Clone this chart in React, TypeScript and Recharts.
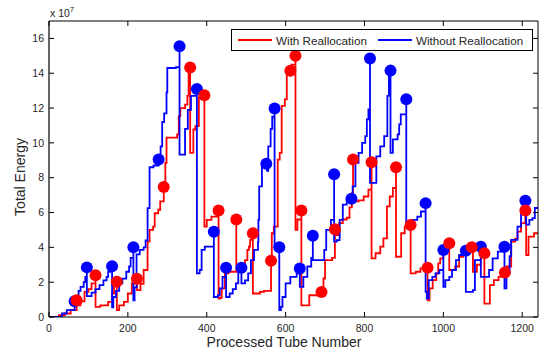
import React from 'react'
import { ComposedChart, Line, Scatter, XAxis, YAxis, Legend } from 'recharts'

// [processed tube number, total energy (x 1e7)]
const withRealloc: [number, number][] = [
  [0, 0], [25, 0.1], [40, 0.2], [55, 0.4], [70, 0.96], [75, 0.67], [80, 0.9], [90, 1.44], [100, 1.6], [108, 1.93], [118, 2.4],
  [118, 0.58], [130, 0.67], [150, 0.87], [160, 1.35], [165, 1.93], [172, 2.02],
  [172, 0.39], [178, 0.67], [190, 0.87], [200, 1.35], [210, 1.93], [223, 2.2],
  [223, 1.54], [232, 1.9], [240, 2.7], [250, 4.33], [255, 5.0], [264, 5.19], [268, 5.96], [277, 6.16], [282, 6.64], [291, 7.47],
  [295, 8.85], [298, 10.3], [325, 10.49], [329, 11.54], [333, 12.0], [345, 12.2], [351, 12.7], [354, 14.04], [358, 14.33],
  [358, 9.43], [366, 10.77], [371, 10.96], [380, 12.6], [394, 12.73],
  [394, 5.19], [400, 5.58], [412, 5.77], [430, 6.12],
  [430, 1.06], [434, 1.1], [438, 1.64], [446, 2.5], [455, 2.6], [475, 5.6],
  [475, 2.6], [490, 2.9], [497, 3.27], [503, 3.85], [507, 4.04], [510, 4.43], [517, 4.81],
  [517, 1.35], [535, 1.44], [545, 1.5], [563, 3.23],
  [565, 4.81], [570, 5.19], [580, 9.04], [585, 9.43], [590, 12.12], [598, 12.5], [603, 14.04], [612, 14.14], [615, 14.5], [625, 15.0],
  [625, 5.0], [630, 5.6], [640, 6.12],
  [640, 0.67], [655, 0.67], [660, 1.25], [680, 1.44], [691, 1.44],
  [696, 2.21], [700, 3.27], [718, 3.4], [725, 5.04],
  [728, 4.71], [736, 5.39], [745, 5.6], [755, 5.7], [762, 6.3], [768, 7.12], [771, 9.04],
  [771, 6.64], [785, 6.7], [798, 6.92], [810, 7.31], [818, 8.89],
  [818, 3.37], [828, 3.66], [840, 4.04], [848, 4.52], [857, 6.35], [864, 6.92], [872, 7.41], [880, 8.6],
  [880, 3.46], [893, 4.81], [902, 5.19], [917, 5.29],
  [917, 2.5], [930, 2.6], [942, 2.79], [960, 2.83],
  [960, 0.96], [965, 1.64], [973, 2.12], [982, 2.5], [987, 3.08], [992, 3.37], [1000, 3.66], [1008, 3.9], [1015, 4.23],
  [1015, 2.7], [1030, 2.9], [1040, 3.46], [1050, 3.6], [1060, 3.8], [1072, 4.0],
  [1075, 2.6], [1085, 3.0], [1095, 3.5], [1104, 3.66],
  [1104, 0.77], [1115, 0.77], [1118, 1.83], [1128, 2.12], [1140, 2.31], [1156, 2.56],
  [1160, 2.9], [1172, 4.33], [1182, 4.5], [1188, 4.9], [1197, 5.39], [1208, 6.12],
  [1210, 3.56], [1216, 4.62], [1230, 4.81], [1240, 4.85],
]

const withoutRealloc: [number, number][] = [
  [0, 0], [33, 0.2], [45, 0.4], [65, 0.9], [70, 1.15], [75, 1.5], [80, 1.73], [88, 2.0], [92, 2.3], [96, 2.85],
  [96, 1.2], [108, 1.4], [118, 1.6], [128, 1.83], [138, 2.1], [146, 2.3], [150, 2.6], [155, 2.8], [160, 2.92],
  [160, 0.55], [163, 1.15], [170, 1.5], [178, 1.93], [186, 2.2], [196, 2.6], [203, 2.9], [207, 3.4], [214, 4.0],
  [214, 0.95], [217, 1.7], [222, 3.6], [230, 3.85], [240, 4.0], [245, 4.4], [250, 6.25], [255, 8.6], [265, 8.7], [278, 9.04],
  [283, 9.8], [287, 11.2], [292, 11.7], [298, 12.9], [300, 14.3], [322, 14.35], [331, 15.55],
  [331, 9.33], [340, 9.33], [345, 10.8], [352, 11.9], [360, 12.7], [375, 13.1],
  [375, 2.5], [382, 2.7], [387, 3.85], [395, 4.04], [418, 4.9],
  [418, 1.15], [428, 1.25], [433, 1.64], [440, 2.3], [449, 2.83],
  [449, 1.15], [458, 1.35], [466, 1.6], [474, 1.93], [480, 2.7], [488, 2.83],
  [488, 1.93], [497, 2.1], [505, 2.5], [512, 3.27], [520, 3.85], [530, 4.3], [531, 5.58], [533, 7.5], [540, 8.66], [551, 8.8],
  [553, 8.4], [556, 9.8], [562, 10.8], [566, 11.5], [572, 11.97],
  [572, 4.0], [584, 4.0],
  [584, 0.4], [588, 0.58], [592, 1.15], [600, 1.93], [612, 2.31], [628, 2.5], [636, 2.78],
  [636, 1.73], [645, 2.31], [655, 2.9], [665, 3.4], [669, 4.66],
  [669, 3.27], [690, 3.27], [698, 3.85], [703, 5.0], [715, 5.58], [723, 8.2],
  [723, 4.33], [730, 4.42], [737, 5.58], [745, 6.45], [755, 6.73], [767, 6.79],
  [770, 7.5], [777, 8.85], [785, 9.43], [794, 10.0], [802, 10.39], [806, 11.35], [810, 11.93], [814, 14.85],
  [814, 7.7], [825, 7.7], [830, 9.23], [840, 9.8], [850, 10.39], [858, 12.7], [862, 13.85], [866, 14.15],
  [866, 9.43], [872, 10.2], [884, 10.49], [888, 11.06], [892, 11.64], [906, 12.5],
  [906, 5.39], [920, 5.58], [934, 5.77], [943, 6.06], [955, 6.54],
  [955, 1.44], [958, 1.06], [963, 2.12], [972, 2.31], [980, 2.5], [990, 2.7], [1000, 3.85],
  [1000, 1.73], [1005, 2.12], [1015, 2.31], [1022, 2.7], [1032, 3.27], [1040, 3.56], [1048, 3.75], [1057, 3.81],
  [1057, 1.44], [1075, 1.54], [1080, 3.27], [1095, 4.04],
  [1095, 2.31], [1108, 2.31], [1116, 2.7], [1125, 3.37], [1138, 3.75], [1155, 4.04],
  [1155, 1.64], [1160, 2.5], [1168, 3.5], [1172, 4.43], [1188, 5.19], [1197, 5.96], [1208, 6.68],
  [1210, 5.3], [1218, 5.58], [1226, 5.68], [1232, 6.26], [1240, 6.3],
]

// circled points (reallocation events)
const withReallocMarks: [number, number][] = [
  [70, 0.96], [118, 2.4], [172, 2.02], [223, 2.2], [291, 7.47], [358, 14.33], [394, 12.73], [430, 6.12],
  [475, 5.6], [517, 4.81], [563, 3.23], [612, 14.14], [625, 15.0], [640, 6.12], [691, 1.44], [725, 5.04],
  [771, 9.04], [818, 8.89], [880, 8.6], [917, 5.29], [960, 2.83], [1015, 4.23], [1072, 4.0], [1104, 3.66],
  [1156, 2.56], [1208, 6.12],
]

const withoutReallocMarks: [number, number][] = [
  [65, 0.9], [96, 2.85], [160, 2.92], [214, 4.0], [278, 9.04], [331, 15.55], [375, 13.1], [418, 4.9],
  [449, 2.83], [488, 2.83], [551, 8.8], [572, 11.97], [584, 4.0], [636, 2.78], [669, 4.66], [723, 8.2],
  [767, 6.79], [814, 14.85], [866, 14.15], [906, 12.5], [955, 6.54], [1000, 3.85], [1057, 3.81], [1095, 4.04],
  [1155, 4.04], [1208, 6.68],
]

const xTicks = [0, 200, 400, 600, 800, 1000, 1200]
const yTicks = [0, 2, 4, 6, 8, 10, 12, 14, 16]
const seriesNames = ['With Reallocation', 'Without Reallocation']

const RED = '#ff0000'
const BLUE = '#0000ff'
const FONT = '"Liberation Sans", Arial, sans-serif'
const TICK_COLOR = '#262626'

const toPts = (arr: [number, number][]) => arr.map(([x, y]) => ({ x, y }))

const BottomTick = ({ x, y, payload }: any) => (
  <g>
    <line x1={x} y1={y} x2={x} y2={y - 5} stroke="#000" />
    <text x={x} y={y + 15} textAnchor="middle" fontSize={10.5} fontFamily={FONT} fill={TICK_COLOR}>
      {payload.value}
    </text>
  </g>
)

const LeftTick = ({ x, y, payload }: any) => (
  <g>
    <line x1={x} y1={y} x2={x + 5} y2={y} stroke="#000" />
    <text x={x - 5} y={y} dy="0.35em" textAnchor="end" fontSize={10.5} fontFamily={FONT} fill={TICK_COLOR}>
      {payload.value}
    </text>
  </g>
)

const dotShape = (color: string) => (p: any) => <circle cx={p.cx} cy={p.cy} r={6} fill={color} stroke="none" />

function LegendBox() {
  const item = (color: string, label: string, ml: number) => (
    <div style={{ display: 'flex', alignItems: 'center', marginLeft: ml }}>
      <div style={{ width: 34, height: 2, background: color }} />
      <span style={{ marginLeft: 4, fontSize: 11.7, color: '#262626', fontFamily: FONT }}>{label}</span>
    </div>
  )
  return (
    <div
      style={{
        width: 302,
        height: 22,
        boxSizing: 'border-box',
        border: '1px solid #000',
        background: '#fff',
        display: 'flex',
        alignItems: 'center',
      }}
    >
      {item(RED, seriesNames[0], 6)}
      {item(BLUE, seriesNames[1], 11)}
    </div>
  )
}

export default function App() {
  return (
    <div style={{ position: 'absolute', left: 0, top: 0, width: 539, height: 354, background: '#fff' }}>
      <ComposedChart width={539} height={354} margin={{ top: 21, right: 1, bottom: 0, left: 0 }}>
        <XAxis
          dataKey="x"
          type="number"
          domain={[0, 1240]}
          ticks={xTicks}
          interval={0}
          height={37}
          tickSize={0}
          tickMargin={0}
          tickLine={false}
          tick={<BottomTick />}
          axisLine={{ stroke: '#000', strokeWidth: 1.2 }}
          allowDataOverflow
          label={({ viewBox }: any) => (
            <text x={284} y={viewBox.y + 30} textAnchor="middle" fontSize={14} fontFamily={FONT} fill={TICK_COLOR}>
              Processed Tube Number
            </text>
          )}
        />
        <XAxis
          xAxisId="top"
          orientation="top"
          dataKey="x"
          type="number"
          domain={[0, 1240]}
          ticks={xTicks}
          interval={0}
          height={1}
          mirror
          tickSize={5}
          tickFormatter={() => ''}
          axisLine={{ stroke: '#000' }}
          tickLine={{ stroke: '#000' }}
          allowDataOverflow
          label={({ viewBox }: any) => (
            <text x={50} y={17} fontSize={10.5} fontFamily={FONT} fill={TICK_COLOR}>
              x 10<tspan dy={-5} fontSize={8}>7</tspan>
            </text>
          )}
        />
        <YAxis
          dataKey="y"
          type="number"
          domain={[0, 17]}
          ticks={yTicks}
          interval={0}
          width={49}
          tickSize={0}
          tickMargin={0}
          tickLine={false}
          tick={<LeftTick />}
          axisLine={{ stroke: '#000', strokeWidth: 1.2 }}
          allowDataOverflow
          label={() => (
            <text
              x={25}
              y={177}
              transform="rotate(-90, 25, 177)"
              textAnchor="middle"
              fontSize={14}
              fontFamily={FONT}
              fill={TICK_COLOR}
            >
              Total Energy
            </text>
          )}
        />
        <YAxis
          yAxisId="right"
          orientation="right"
          dataKey="y"
          type="number"
          domain={[0, 17]}
          ticks={yTicks}
          interval={0}
          width={1}
          mirror
          tickSize={5}
          tickFormatter={() => ''}
          axisLine={{ stroke: '#000' }}
          tickLine={{ stroke: '#000' }}
          allowDataOverflow
        />
        <Legend
          layout="horizontal"
          verticalAlign="middle"
          align="center"
          wrapperStyle={{ left: 231, top: 29, width: 302, height: 22 }}
          content={() => <LegendBox />}
        />
        <Line
          data={toPts(withRealloc)}
          dataKey="y"
          name={seriesNames[0]}
          type="stepAfter"
          stroke={RED}
          strokeWidth={1.8}
          dot={false}
          activeDot={false}
          isAnimationActive={false}
        />
        <Line
          data={toPts(withoutRealloc)}
          dataKey="y"
          name={seriesNames[1]}
          type="stepAfter"
          stroke={BLUE}
          strokeWidth={1.8}
          dot={false}
          activeDot={false}
          isAnimationActive={false}
        />
        <Scatter
          data={toPts(withoutReallocMarks)}
          dataKey="y"
          legendType="none"
          shape={dotShape(BLUE)}
          isAnimationActive={false}
        />
        <Scatter
          data={toPts(withReallocMarks)}
          dataKey="y"
          xAxisId="top"
          yAxisId="right"
          legendType="none"
          shape={dotShape(RED)}
          isAnimationActive={false}
        />
      </ComposedChart>
    </div>
  )
}
